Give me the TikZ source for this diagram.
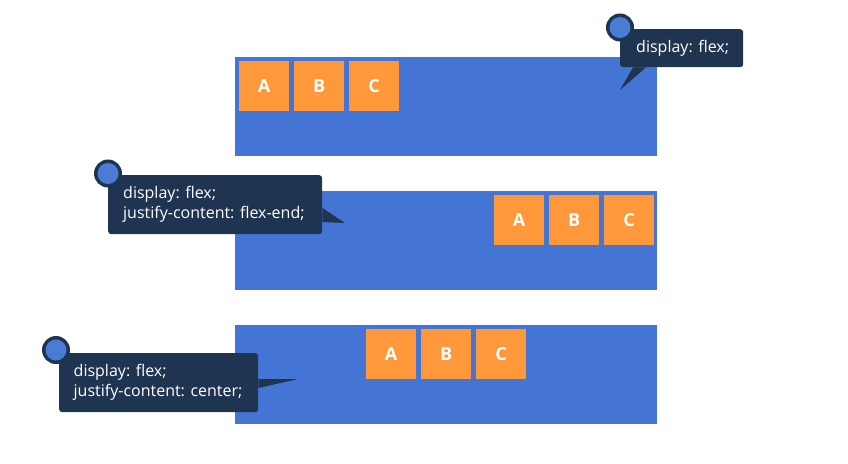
\documentclass[tikz,border=0pt]{standalone}
\usepackage{fontspec}
\setmainfont{Open Sans}
\definecolor{flexblue}{HTML}{4575D4}
\definecolor{itemorange}{HTML}{FF983A}
\definecolor{navy}{HTML}{1F3450}
\definecolor{dotblue}{HTML}{4A7CD6}
\begin{document}
\begin{tikzpicture}[x=1pt,y=-1pt,
  container/.style={fill=flexblue, draw=none, minimum width=422pt, minimum height=99pt, inner sep=0pt, anchor=north west},
  item/.style={fill=itemorange, draw=none, minimum width=50pt, minimum height=50pt, inner sep=0pt, anchor=north west, text=white, font=\fontsize{18}{18}\selectfont\bfseries},
  tipbox/.style={fill=navy, draw=none, rounded corners=3pt, inner sep=0pt, anchor=north west},
  tiptext/.style={text=white, inner sep=0pt, anchor=west, align=left, font=\fontsize{16}{20}\selectfont},
  dotring/.style={circle, fill=navy, minimum size=28pt, inner sep=0pt},
  dotcore/.style={circle, fill=dotblue, minimum size=21pt, inner sep=0pt},
  tail/.style={fill=navy, draw=none}]
\useasboundingbox[fill=white] (0,0) rectangle (848,463);

% containers
\node[container] (c1) at (235,57) {};
\node[container] (c2) at (235,191) {};
\node[container] (c3) at (235,325) {};

% items row 1 (flex-start)
\node[item] (a1) at (239,61) {A};
\node[item] (b1) at (294,61) {B};
\node[item] (d1) at (349,61) {C};
% items row 2 (flex-end)
\node[item] (a2) at (494,195) {A};
\node[item] (b2) at (549,195) {B};
\node[item] (d2) at (604,195) {C};
% items row 3 (center)
\node[item] (a3) at (366,329) {A};
\node[item] (b3) at (421,329) {B};
\node[item] (d3) at (476,329) {C};

% callout 1
\node[tipbox, minimum width=123pt, minimum height=38pt] (t1) at (620,29) {};
\node[tiptext] (x1) at ([xshift=16pt]t1.west) {display: flex;};
\coordinate (tip1) at (620,90);
\fill[tail] ([xshift=13pt]t1.south west) -- (tip1) -- ([xshift=26pt]t1.south west) -- cycle;
\node[dotring] (r1) at ([yshift=1.5pt]t1.north west) {};
\node[dotcore] (k1) at (r1) {};

% callout 2
\node[tipbox, minimum width=214pt, minimum height=59pt] (t2) at (108,175) {};
\node[tiptext] (x2) at ([xshift=15pt]t2.west) {display: flex;\\justify-content: flex-end;};
\coordinate (tip2) at (345,223);
\fill[tail] ([yshift=-33pt]t2.north east) -- (tip2) -- ([yshift=-47pt]t2.north east) -- cycle;
\node[dotring] (r2) at ([yshift=1.5pt]t2.north west) {};
\node[dotcore] (k2) at (r2) {};

% callout 3
\node[tipbox, minimum width=199pt, minimum height=59pt] (t3) at (59,353) {};
\node[tiptext] (x3) at ([xshift=14.5pt]t3.west) {display: flex;\\justify-content: center;};
\coordinate (tip3) at (298,379);
\fill[tail] ([yshift=-26pt]t3.north east) -- (tip3) -- ([yshift=-35pt]t3.north east) -- cycle;
\node[dotring] (r3) at ([xshift=-3pt,yshift=3pt]t3.north west) {};
\node[dotcore] (k3) at (r3) {};
\end{tikzpicture}
\end{document}
